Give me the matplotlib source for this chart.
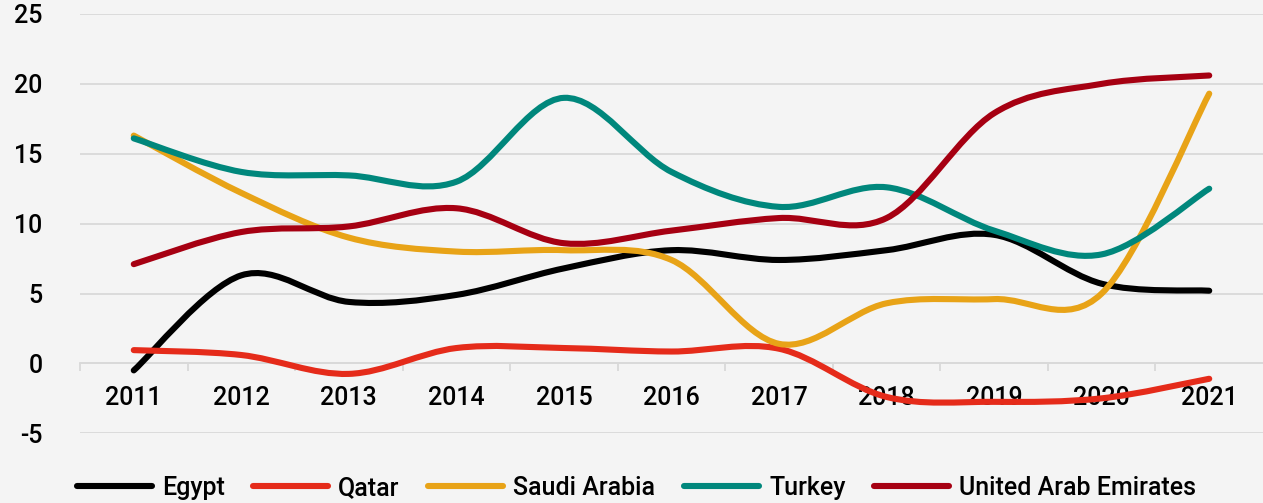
import matplotlib
matplotlib.use('Agg')
import matplotlib.pyplot as plt
from matplotlib.path import Path
from matplotlib.patches import PathPatch
from matplotlib.lines import Line2D

# values
years = [2011, 2012, 2013, 2014, 2015, 2016, 2017, 2018, 2019, 2020, 2021]

egypt  = [-0.5, 6.3, 4.4, 4.9, 6.8, 8.1, 7.4, 8.1, 9.2, 5.7, 5.2]
qatar  = [0.95, 0.6, -0.75, 1.1, 1.1, 0.85, 1.05, -2.4, -2.75, -2.5, -1.1]
saudi  = [16.3, 12.2, 9.0, 8.0, 8.1, 7.4, 1.4, 4.3, 4.6, 5.0, 19.3]
turkey = [16.1, 13.7, 13.45, 13.0, 19.0, 13.7, 11.2, 12.6, 9.5, 7.8, 12.5]
uae    = [7.1, 9.4, 9.8, 11.1, 8.6, 9.5, 10.4, 10.4, 17.9, 20.0, 20.6]

names  = ['Egypt', 'Qatar', 'Saudi Arabia', 'Turkey', 'United Arab Emirates']
series = [egypt, qatar, saudi, turkey, uae]
colors = ['#000000', '#e52b1a', '#e8a317', '#00877c', '#a60012']

bg = '#f4f4f4'
grid = '#d9d9d9'

plt.rcParams['font.family'] = ['Roboto', 'DejaVu Sans']
plt.rcParams['font.weight'] = 'medium'
plt.rcParams['axes.unicode_minus'] = False


def smooth_path(xs, ys):
    # excel-like smoothed line: cubic bezier through every point
    n = len(xs)
    verts = [(xs[0], ys[0])]
    codes = [Path.MOVETO]
    for i in range(n - 1):
        p0 = max(i - 1, 0)
        p3 = min(i + 2, n - 1)
        c1 = (xs[i] + (xs[i + 1] - xs[p0]) / 6.0, ys[i] + (ys[i + 1] - ys[p0]) / 6.0)
        c2 = (xs[i + 1] - (xs[p3] - xs[i]) / 6.0, ys[i + 1] - (ys[p3] - ys[i]) / 6.0)
        verts += [c1, c2, (xs[i + 1], ys[i + 1])]
        codes += [Path.CURVE4] * 3
    return Path(verts, codes)


fig = plt.figure(figsize=(12.63, 5.03), dpi=100, facecolor=bg)
ax = fig.add_axes([80 / 1263, 0.1386, 1183 / 1263, 0.8336])
ax.set_facecolor(bg)

for vals, col in zip(series, colors):
    patch = PathPatch(smooth_path(years, vals), fill=False, edgecolor=col,
                      lw=4.4, capstyle='round', joinstyle='round', zorder=3)
    ax.add_patch(patch)

ax.set_xlim(2010.5, 2021.5)
ax.set_ylim(-5, 25)
ax.set_yticks(range(-5, 26, 5))
ax.set_xticks(years)
ax.set_xticks([y + 0.5 for y in [2010] + years[:-1]], minor=True)

ax.grid(axis='y', color=grid, lw=1.3, zorder=0)
for side in ['left', 'right', 'top']:
    ax.spines[side].set_visible(False)
ax.spines['bottom'].set_position(('data', 0))
ax.spines['bottom'].set_color(grid)
ax.spines['bottom'].set_linewidth(1.3)

ax.tick_params(axis='y', length=0, pad=27, labelsize=18)
ax.tick_params(axis='x', which='major', length=0, pad=16, labelsize=18)
ax.tick_params(axis='x', which='minor', length=6, width=1.3, color=grid)

handles = [Line2D([], [], color=c, lw=4.4, solid_capstyle='round') for c in colors]
fig.legend(handles, names, loc='center', bbox_to_anchor=(0.504, 0.03), ncol=5,
           frameon=False, fontsize=18, handlelength=3.0, handletextpad=0.4,
           columnspacing=1.15)

fig.savefig('out.png', dpi=100, facecolor=bg)
